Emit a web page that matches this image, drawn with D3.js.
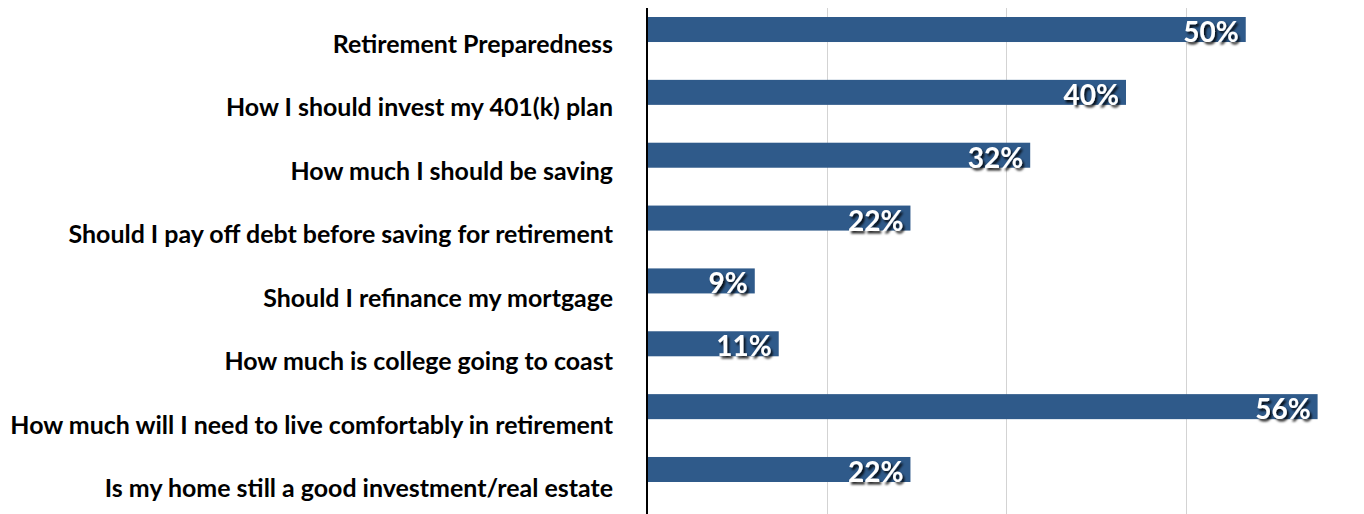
<!DOCTYPE html>
<html><head><meta charset="utf-8">
<script src="https://cdn.jsdelivr.net/npm/d3@7"></script>
<style>html,body{margin:0;padding:0;background:#fff;}</style>
</head><body>
<svg id="c" width="1364" height="514"></svg>
<script>
const categories = [
  "Retirement Preparedness",
  "How I should invest my 401(k) plan",
  "How much I should be saving",
  "Should I pay off debt before saving for retirement",
  "Should I refinance my mortgage",
  "How much is college going to coast",
  "How much will I need to live comfortably in retirement",
  "Is my home still a good investment/real estate"
];
const values = [50, 40, 32, 22, 9, 11, 56, 22];
const gridTicks = [15, 30, 45, 60];

const svg = d3.select("#c");
const x0 = 647, x60 = 1365.5;
const x = d3.scaleLinear().domain([0, 60]).range([x0, x60]);
const y = d3.scaleBand().domain(categories).range([17, 482]).paddingInner(0.602).paddingOuter(0);
// label centers (labels sit a little below their bars, spread slightly wider)
const yl = d3.scalePoint().domain(categories).range([42.5, 487]);

const defs = svg.append("defs");
const f = defs.append("filter").attr("id","sh").attr("x","-20%").attr("y","-30%").attr("width","150%").attr("height","180%");
f.append("feDropShadow").attr("dx",2).attr("dy",2.5).attr("stdDeviation",1.3).attr("flood-color","#000").attr("flood-opacity",0.85);

// gridlines
svg.append("g").selectAll("line").data(gridTicks).join("line")
  .attr("x1", d => Math.round(x(d)) + 0.5).attr("x2", d => Math.round(x(d)) + 0.5)
  .attr("y1", 8).attr("y2", 514)
  .attr("stroke", "#d3d3d3").attr("stroke-width", 1);

// bars
svg.append("g").selectAll("rect").data(values).join("rect")
  .attr("x", x0).attr("y", (d,i) => y(categories[i]))
  .attr("width", d => x(d) - x0).attr("height", y.bandwidth())
  .attr("fill", "#2F5A8A");

// axis line
svg.append("line").attr("x1", x0).attr("x2", x0).attr("y1", 8).attr("y2", 514)
  .attr("stroke", "#000").attr("stroke-width", 2);

// category labels
const labels = svg.append("g").selectAll("text").data(categories).join("text")
  .attr("x", 613).attr("y", d => yl(d))
  .attr("text-anchor", "end").attr("dominant-baseline", "central")
  .attr("font-family", "Lato, 'Open Sans', sans-serif").attr("font-weight", "bold")
  .attr("font-size", 21).attr("fill", "#000")
  .text(d => d);
let maxW = 0;
labels.each(function(){ maxW = Math.max(maxW, this.getComputedTextLength()); });
labels.attr("font-size", 21 * 603 / maxW);

// value labels
svg.append("g").selectAll("text").data(values).join("text")
  .attr("x", d => x(d) - 7).attr("y", (d,i) => y(categories[i]) + y.bandwidth()/2 + 1.5)
  .attr("text-anchor", "end").attr("dominant-baseline", "central")
  .attr("font-family", "Lato, 'Open Sans', sans-serif").attr("font-weight", "bold")
  .attr("font-size", 28).attr("fill", "#fff").attr("filter", "url(#sh)")
  .text(d => d + "%");
</script>
</body></html>
